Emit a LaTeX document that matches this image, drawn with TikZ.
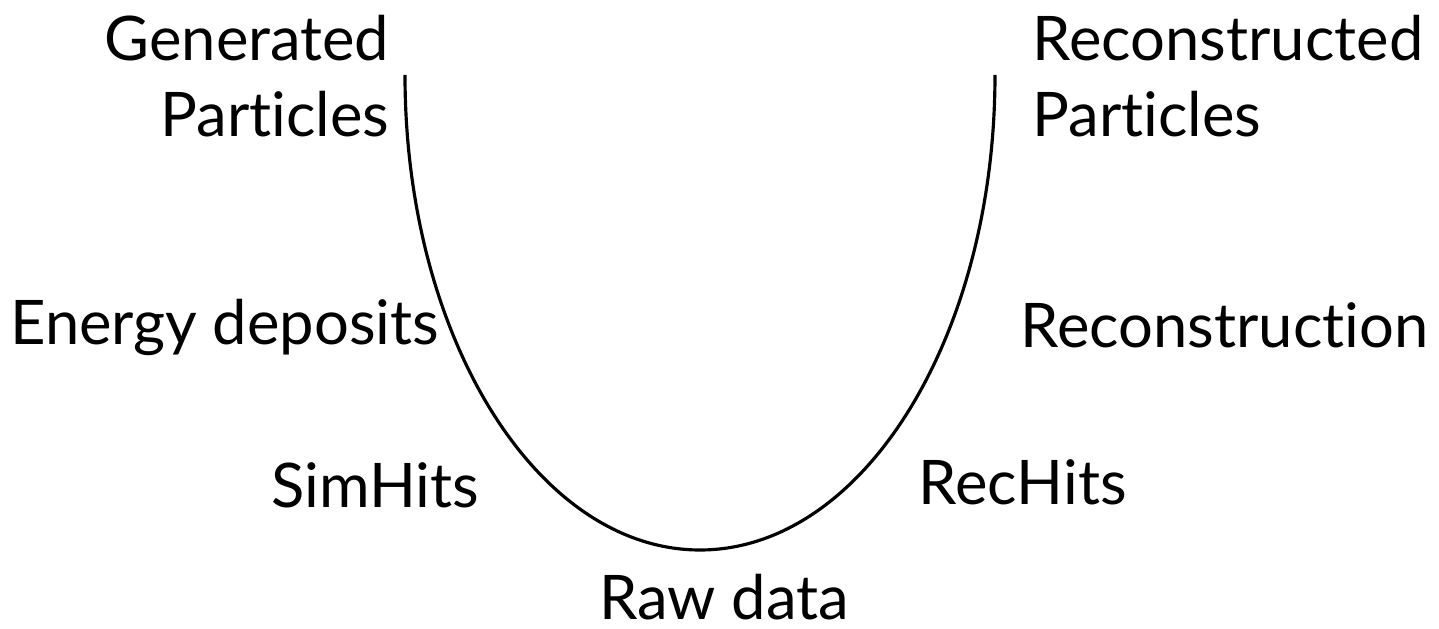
\documentclass[tikz,border=0pt]{standalone}
\usepackage{fontspec}
\setmainfont{Lato}[Ligatures=NoCommon]
\tikzset{lbl/.style={inner sep=0pt, font=\fontsize{17.5}{21.9}\selectfont, align=center}}
\begin{document}
\begin{tikzpicture}
\useasboundingbox (0,0) rectangle (14.39,6.29);
% the U
\coordinate (gtop) at (4.05,5.54);
\coordinate (rtop) at (9.95,5.54);
\draw[line width=0.9pt] (gtop) arc (180:360:2.95 and 4.75);
% left side: simulation
\node[lbl, anchor=base east, align=right] (gen) at (3.90,4.92) {Generated\\Particles};
\node[lbl, anchor=base east] (edep) at (4.40,2.84) {Energy deposits};
\node[lbl, anchor=base east] (simhits) at (4.80,1.21) {SimHits};
% bottom
\node[lbl, anchor=base] (raw) at (7.24,0.09) {Raw data};
% right side: reconstruction
\node[lbl, anchor=base west] (rechits) at (9.18,1.24) {RecHits};
\node[lbl, anchor=base west] (reco) at (10.20,2.81) {Reconstruction};
\node[lbl, anchor=base west, align=left] (recpart) at (10.32,4.92) {Reconstructed\\Particles};
\end{tikzpicture}
\end{document}
